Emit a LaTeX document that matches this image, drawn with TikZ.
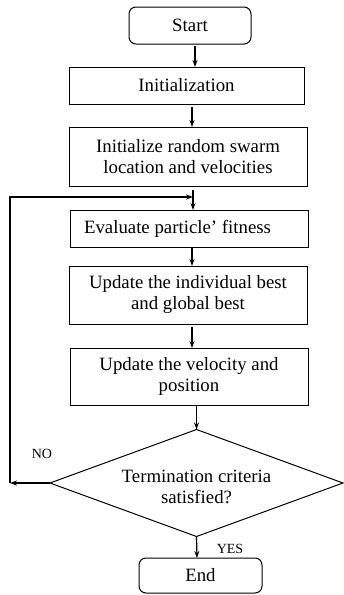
\documentclass[tikz,border=0pt]{standalone}
\usepackage{fontspec}
\setmainfont{Liberation Serif}
\usetikzlibrary{shapes.geometric,arrows.meta}
\begin{document}
\begin{tikzpicture}[x=1pt,y=-1pt,
  every node/.style={inner sep=0pt,outer sep=0pt},
  txt/.style={font=\fontsize{18.8}{21}\selectfont,align=center},
  procbox/.style={draw,line width=1pt,minimum width=238pt,txt},
  termbox/.style={draw,line width=1pt,rounded corners=7pt,txt},
  decbox/.style={draw,line width=1pt,diamond,minimum width=293pt,minimum height=107pt},
  lbl/.style={font=\fontsize{14}{16}\selectfont},
  arr/.style={line width=1.2pt,-{Stealth[length=7pt,width=5pt]}},
  ln/.style={line width=1.2pt}]
\useasboundingbox (0,0) rectangle (344,595);
\node[termbox,minimum width=122pt,minimum height=37pt] (start) at (190,25.5) {Start};
\node[procbox,minimum width=235pt,minimum height=37pt] (init) at (186.5,85.5) {Initialization};
\node[procbox,minimum height=59pt] (rand) at (188,156.5) {Initialize random swarm\\location and velocities};
\node[procbox,minimum height=37pt] (eval) at (189,228.5) {Evaluate particle’ fitness\hspace{23pt}};
\node[procbox,minimum height=58pt] (upd1) at (188,295) {Update the individual best\\and global best};
\node[procbox,minimum height=57pt] (upd2) at (189,376.5) {Update the velocity and\\position};
\node[decbox] (dec) at (196.5,483) {};
\node[txt] (dtext) at (196.5,487) {Termination criteria\\satisfied?};
\node[termbox,minimum width=123pt,minimum height=35pt] (end) at (200.5,575.5) {End};
\node[lbl] (no) at (42,454) {NO};
\node[lbl] (yes) at (230,549) {YES};
\coordinate (c1) at (10,483);
\coordinate (c2) at (10,197);
\coordinate (c3) at (193,197);
\draw[arr,shorten <=2pt] ([xshift=5pt]start.south) -- ([xshift=8.5pt]init.north);
\draw[arr,shorten <=3pt] ([xshift=5.5pt]init.south) -- ([xshift=4pt]rand.north);
\draw[arr,shorten <=4pt] ([xshift=5pt]rand.south) -- ([xshift=4pt]eval.north);
\draw[arr,shorten <=1pt] ([xshift=3pt]eval.south) -- ([xshift=4pt]upd1.north);
\draw[arr,shorten <=3pt] ([xshift=4pt]upd1.south) -- ([xshift=3pt]upd2.north);
\draw[arr] ([xshift=7.5pt]upd2.south) -- (dec.north);
\draw[arr] (dec.south) -- ([xshift=-3.5pt]end.north);
\draw[arr] (dec.west) -- (c1);
\draw[arr] (c1) -- (c2) -- (c3);
\end{tikzpicture}
\end{document}
